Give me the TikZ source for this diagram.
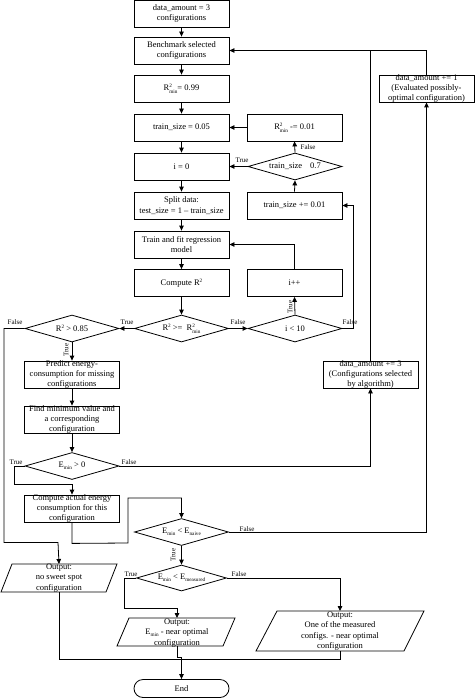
\documentclass[tikz,border=0pt]{standalone}
\usepackage{fontspec}
\setmainfont{Liberation Serif}
\usetikzlibrary{arrows.meta,shapes.geometric,calc}
\newcommand\scr[1]{{\fontsize{5.2}{5.2}\selectfont #1}}
\newcommand\sq{\raisebox{3.6pt}{\scr{2}}}
\newcommand\RR[1]{R\rlap{\sq}\raisebox{-2.2pt}{\scr{#1}}}
\newcommand\Em[1]{E\raisebox{-1.8pt}{\scr{#1}}}
\tikzset{
  box/.style={draw,line width=0.8pt,minimum width=95pt,minimum height=27pt,inner sep=0pt},
  dia/.style={draw,line width=0.8pt,diamond,minimum width=94pt,minimum height=27pt,inner sep=0pt},
  txt/.style={align=center,inner sep=0pt,font=\fontsize{8.5}{10.3}\selectfont},
  lab/.style={inner sep=0pt,font=\fontsize{7}{8}\selectfont},
  ln/.style={line width=0.8pt},
  arr/.style={line width=0.8pt,-{Triangle[length=5pt,width=4.5pt]}}
}
\newcommand\bx[3]{\node[box] (#1) at (#2) {}; \node[txt] (#1t) at (#1.center) {#3};}
\newcommand\dm[3]{\node[dia] (#1) at (#2) {}; \node[txt] (#1t) at (#1.center) {#3};}
\begin{document}
\begin{tikzpicture}[x=1pt,y=-1pt]
\useasboundingbox (0,0) rectangle (474,698);
% main column
\bx{A}{181.5,13.5}{data\_amount = 3\\configurations}
\bx{B}{181.5,50.5}{Benchmark selected\\configurations}
\bx{C}{181.5,88.5}{\RR{min}= 0.99}
\bx{D}{181.5,127.5}{train\_size = 0.05}
\bx{E}{181.5,166.5}{i = 0}
\bx{F}{181.5,205.5}{Split data:\\test\_size = 1 -- train\_size}
\bx{G}{181.5,244.5}{Train and fit regression\\model}
\bx{H}{181.5,283}{Compute R\sq}
\dm{D1}{181.5,328.5}{R\sq\ >= \ \RR{min}}
% right column
\bx{R2dec}{294.5,127.5}{\RR{min} -= 0.01}
\dm{TSD}{295,166.5}{train\_size\hspace{8pt}0.7}
\bx{TSInc}{294.5,205.5}{train\_size += 0.01}
\bx{Ipp}{294.5,283}{i++}
\dm{I10}{295,328.5}{i < 10}
% left column
\dm{R85}{72,328.5}{R\sq\ > 0.85}
\bx{Pred}{72,374.5}{Predict energy-\\consumption for missing\\configurations}
\bx{Find}{72,419.5}{Find minimum value and\\a corresponding\\configuration}
\dm{Emin}{72,466}{\Em{min} > 0}
\bx{Comp}{72,508.5}{Compute actual energy\\consumption for this\\configuration}
% far right
\bx{DA3}{370.5,374.5}{data\_amount += 3\\(Configurations selected\\by algorithm)}
\bx{DA1}{426.5,88.5}{data\_amount += 1\\(Evaluated possibly-\\optimal configuration)}
% lower diamonds
\dm{Enaive}{181.5,532}{\Em{min} < \Em{naive}}
\node[dia,minimum width=90pt,minimum height=26pt] (Emeas) at (181.5,578) {};
\node[txt] (Emeast) at (Emeas.center) {\Em{min} < \Em{measured}};
% outputs
\draw[ln] (12,564) -- (117,564) -- (106,592) -- (1,592) -- cycle;
\node[txt] (P1) at (59,578) {Output:\\no sweet spot\\configuration};
\coordinate (P1t) at (59,564); \coordinate (P1b) at (59,592);
\draw[ln] (129,618) -- (235,618) -- (223,646) -- (117,646) -- cycle;
\node[txt] (P2) at (177,633) {Output:\\\Em{min} - near optimal\\configuration};
\coordinate (P2t) at (177,618); \coordinate (P2b) at (177,646);
\draw[ln] (277,611) -- (424,611) -- (404,651) -- (256,651) -- cycle;
\node[txt] (P3) at (340,631) {Output:\\One of the measured\\configs. - near optimal\\configuration};
\coordinate (P3t) at (340,611); \coordinate (P3b) at (340,651);
\node[draw,line width=0.8pt,rounded corners=9pt,minimum width=95pt,minimum height=18pt,inner sep=0pt] (End) at (181.5,688.5) {};
\node[txt] (Endt) at (End.center) {End};
% connectors main
\draw[arr] (A) -- (B);
\draw[arr] (B) -- (C);
\draw[arr] (C) -- (D);
\draw[arr] (D) -- (E);
\draw[arr] (E) -- (F);
\draw[arr] (F) -- (G);
\draw[arr] (G) -- (H);
\draw[arr] (H) -- (D1);
\draw[arr] (D1.west) -- (R85.east);
\draw[arr] (D1.east) -- (I10.west);
\draw[arr] (I10.north) -- (Ipp.south);
\draw[arr] (Ipp.north) |- (G.east);
\draw[arr] (I10.east) -- ++(11,0) |- (TSInc.east);
\draw[arr] (TSInc.north) -- (TSD.south);
\draw[arr] (TSD.west) -- (E.east);
\draw[arr] (TSD.north) -- (R2dec.south);
\draw[arr] (R2dec.west) -- (D.east);
\draw[arr] (R85.south) -- (Pred.north);
\draw[arr] (R85.west) -- (4,328.5) |- (58,542.5) -- (P1t);
\draw[arr] (Pred) -- (Find);
\draw[arr] (Find) -- (Emin);
\draw[arr] (Emin.west) -- ++(-10,0) |- ($(Comp.north)+(0,-10)$) -- (Comp.north);
\draw[arr] (Emin.east) -| (DA3.south);
\draw[ln] (DA3.north) -- (DA3.north |- B.east);
\draw[arr] (DA1.north) |- (B.east);
\draw[arr] (Comp.south) -- ++(0,21) -- (128,543) -- (128,498) -| (Enaive.north);
\draw[arr] (Enaive.east) -| (DA1.south);
\draw[arr] (Enaive.south) -- (Emeas.north);
\draw[arr] (Emeas.west) -- (124,578) |- (177,608) -- (P2t);
\draw[arr] (Emeas.east) -| (P3t);
\draw[ln] (P1b) -- (59,659) -| (P3b);
\draw[arr] (P2b) -- (177,657) -| (End.north);
% labels
\node[lab] (l1) at (242,160) {True};
\node[lab] (l2) at (308,147) {False};
\node[lab] (l3) at (127,322) {True};
\node[lab] (l4) at (238,322) {False};
\node[lab] (l5) at (350,322) {False};
\node[lab,rotate=90] (l6) at (290,307) {True};
\node[lab] (l7) at (15,322) {False};
\node[lab,rotate=90] (l8) at (66,350) {True};
\node[lab] (l9) at (16,462) {True};
\node[lab] (l10) at (129,462) {False};
\node[lab] (l11) at (247,529) {False};
\node[lab,rotate=90] (l12) at (173,555) {True};
\node[lab] (l13) at (131,574) {True};
\node[lab] (l14) at (239,574) {False};
\end{tikzpicture}
\end{document}
